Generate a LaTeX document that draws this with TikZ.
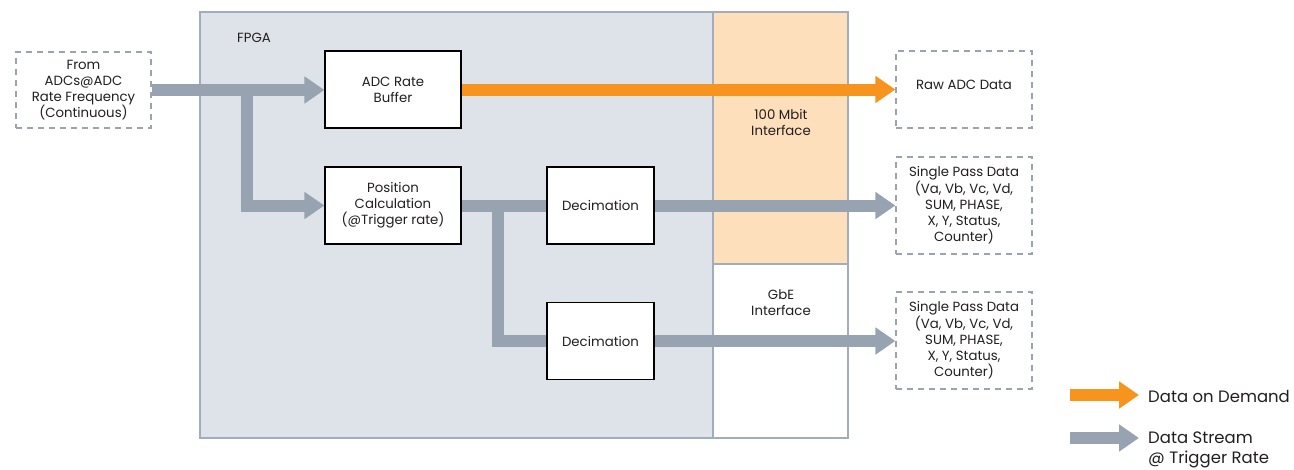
\documentclass[tikz,border=0pt]{standalone}
\usepackage{fontspec}
\setmainfont{Poppins}
\usetikzlibrary{arrows.meta}
\definecolor{fpgafill}{HTML}{DEE2E9}
\definecolor{fpgaline}{HTML}{A2ACBA}
\definecolor{peach}{HTML}{FDDFBB}
\definecolor{streamgray}{HTML}{97A3B1}
\definecolor{demandorange}{HTML}{F7941D}
\definecolor{dashgray}{HTML}{9AA4B1}
\definecolor{txt}{HTML}{231F20}
\tikzset{
  blk/.style={draw=black, line width=1.2pt, fill=white, minimum width=136pt, minimum height=77pt, align=center, font=\fontsize{13.3}{16}\selectfont, text=txt, inner sep=0pt},
  decbox/.style={blk, minimum width=107pt, minimum height=77pt},
  ext/.style={draw=dashgray, dashed, dash pattern=on 6pt off 5pt, line width=1.2pt, fill=white, minimum width=136pt, align=center, font=\fontsize{13.3}{16}\selectfont, text=txt, inner sep=0pt},
  lbl/.style={font=\fontsize{13.3}{16}\selectfont, text=txt, align=center, inner sep=0pt},
  stream/.style={draw=streamgray, line width=12pt, line join=miter},
  streamarrow/.style={stream, -{Triangle[length=20pt,width=26pt]}},
  demand/.style={draw=demandorange, line width=12pt, -{Triangle[length=20pt,width=26pt]}},
}
\begin{document}
\begin{tikzpicture}[x=1pt,y=-1pt]
\useasboundingbox (0,0) rectangle (1294,469);
% FPGA and interfaces
\draw[fpgaline, line width=1.5pt, fill=fpgafill] (200,12) rectangle (713,438);
\draw[fpgaline, line width=1.5pt, fill=peach] (713,12) rectangle (848,264);
\draw[fpgaline, line width=1.5pt, fill=white] (713,264) rectangle (848,438);
\node[lbl, anchor=west] (fpgalbl) at (237,38) {FPGA};
\node[lbl] (mbit) at (781,122) {100 Mbit\\Interface};
\node[lbl] (gbe) at (781,303) {GbE\\Interface};
% external boxes
\node[ext, minimum width=135pt, minimum height=76pt] (src) at (83.5,90) {From\\ADCs@ADC\\Rate Frequency\\(Continuous)};
\node[ext, minimum height=77pt] (raw) at (964,89.5) {};
\node[lbl] (rawlbl) at (964,85) {Raw ADC Data};
\node[ext, minimum height=97pt] (sp1) at (964,205.5) {Single Pass Data\\(Va, Vb, Vc, Vd,\\SUM, PHASE,\\X, Y, Status,\\Counter)};
\node[ext, minimum height=97pt] (sp2) at (964,340.5) {Single Pass Data\\(Va, Vb, Vc, Vd,\\SUM, PHASE,\\X, Y, Status,\\Counter)};
% internal blocks
\node[blk] (buf) at (393,89.5) {ADC Rate\\Buffer};
\node[blk] (pos) at (393,205.5) {Position\\Calculation\\(@Trigger rate)};
\node[decbox] (dec1) at (600.5,205.5) {Decimation};
\node[decbox] (dec2) at (600.5,341) {Decimation};
% connectors
\coordinate (br1) at (247,90);
\coordinate (br2) at (498,206);
\draw[streamarrow] (src.east |- 0,90) -- (buf.west |- 0,90);
\draw[streamarrow] (br1) |- (pos.west);
\draw[stream] (pos.east) -- (dec1.west);
\draw[stream] (br2) |- (dec2.west);
\draw[demand] (buf.east) -- (raw.west);
\draw[streamarrow] (dec1.east) -- (sp1.west |- dec1.east);
\draw[streamarrow] (dec2.east) -- (sp2.west |- dec2.east);
% legend
\coordinate (lg1a) at (1070,395);
\coordinate (lg1b) at (1139,395);
\coordinate (lg2a) at (1070,438);
\coordinate (lg2b) at (1139,438);
\draw[demand] (lg1a) -- (lg1b);
\draw[streamarrow] (lg2a) -- (lg2b);
\node[anchor=west, font=\fontsize{16.5}{20}\selectfont, text=txt, inner sep=0pt] (lgd1) at (1148,396) {Data on Demand};
\node[anchor=west, font=\fontsize{16.5}{20}\selectfont, text=txt, inner sep=0pt, align=left] (lgd2) at (1148,450) {Data Stream\\@ Trigger Rate};
\end{tikzpicture}
\end{document}
